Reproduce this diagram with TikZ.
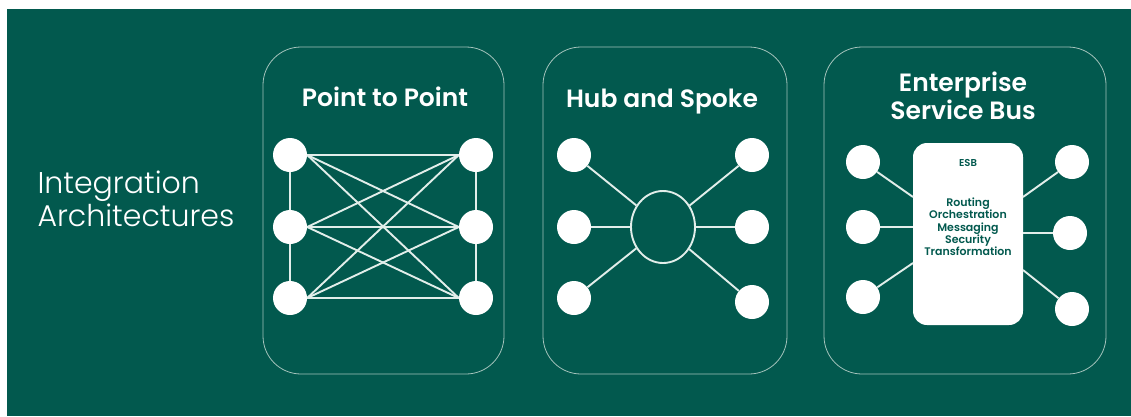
\documentclass[tikz,border=0pt]{standalone}
\usepackage{fontspec}
\setmainfont{Poppins}
\newfontfamily\lightfont{Poppins Light}
\newfontfamily\headfont{Poppins SemiBold}
\usetikzlibrary{shapes.geometric}
\definecolor{bggreen}{HTML}{02594E}
\definecolor{rimcol}{HTML}{A3C2BB}
\definecolor{wirecol}{HTML}{E2EEEA}

\begin{document}
\begin{tikzpicture}[x=1pt,y=-1pt,
	dot/.style={circle,fill=white,minimum size=34pt,inner sep=0pt},
	panel/.style={draw=rimcol,line width=0.8pt,rounded corners=38pt},
	wire/.style={draw=wirecol,line width=1.9pt},
	title/.style={text=white,align=center,font=\headfont\fontsize{25}{28}\selectfont}]
	\useasboundingbox (0,0) rectangle (1131,416);
	\fill[white] (0,0) rectangle (1131,416);
	\fill[bggreen] (7,9) rectangle (1131,416);
	\node[anchor=west, text=white, align=left, font=\lightfont\fontsize{30}{33}\selectfont] (heading) at (34,199) {Integration\\Architectures};
	
	% point to point
	\draw[panel] (263,47) rectangle (504,374);
	\node[title] (ptitle) at (385,97) {Point to Point};
	\node[dot] (pl1) at (290,155) {};
	\node[dot] (pl2) at (290,227) {};
	\node[dot] (pl3) at (290,298) {};
	\node[dot] (pr1) at (476,155) {};
	\node[dot] (pr2) at (476,227) {};
	\node[dot] (pr3) at (476,298) {};
	\draw[wire] (pl1) -- (pl2) (pl2) -- (pl3) (pr1) -- (pr2) (pr2) -- (pr3);
	\foreach \i in {1,2,3}
		\foreach \j in {1,2,3}
			\draw[wire] (pl\i.east) -- (pr\j.west);
	
	% hub and spoke
	\draw[panel] (543,47) rectangle (787,374);
	\node[title] (htitle) at (662,102) {Hub and Spoke};
	\node[draw=wirecol, line width=1.9pt, ellipse, minimum width=64pt, minimum height=72pt] (hub) at (663,227) {};
	\node[dot] (hl1) at (574,155) {};
	\node[dot] (hl2) at (574,227) {};
	\node[dot] (hl3) at (574,298) {};
	\node[dot] (hr1) at (752,155) {};
	\node[dot] (hr2) at (752,227) {};
	\node[dot] (hr3) at (752,302) {};
	\foreach \i in {1,2,3}
		\draw[wire] (hl\i) -- (hub) (hr\i) -- (hub);
	
	% enterprise service bus
	\draw[panel] (824,47) rectangle (1106,374);
	\node[title] (etitle) at (963,96) {Enterprise\\Service Bus};
	\node[fill=white, rounded corners=14pt, minimum width=110pt, minimum height=182pt] (esb) at (968,234) {};
	\node[text=bggreen, font=\headfont\fontsize{10}{12}\selectfont] (esbname) at (968,163) {ESB};
	\node[text=bggreen, align=center, font=\headfont\fontsize{11}{12.3}\selectfont] (esbtasks) at (968,227) {Routing\\Orchestration\\Messaging\\Security\\Transformation};
	\node[dot] (el1) at (863,162) {};
	\node[dot] (el2) at (863,227) {};
	\node[dot] (el3) at (863,297) {};
	\node[dot] (er1) at (1072,162) {};
	\node[dot] (er2) at (1070,233) {};
	\node[dot] (er3) at (1072,309) {};
	\coordinate (eL1) at (913,197);
	\coordinate (eL2) at (913,227);
	\coordinate (eL3) at (913,263);
	\coordinate (eR1) at (1023,197);
	\coordinate (eR2) at (1023,233);
	\coordinate (eR3) at (1023,270);
	\foreach \i in {1,2,3}
		\draw[wire] (el\i) -- (eL\i) (er\i) -- (eR\i);
\end{tikzpicture}
\end{document}
